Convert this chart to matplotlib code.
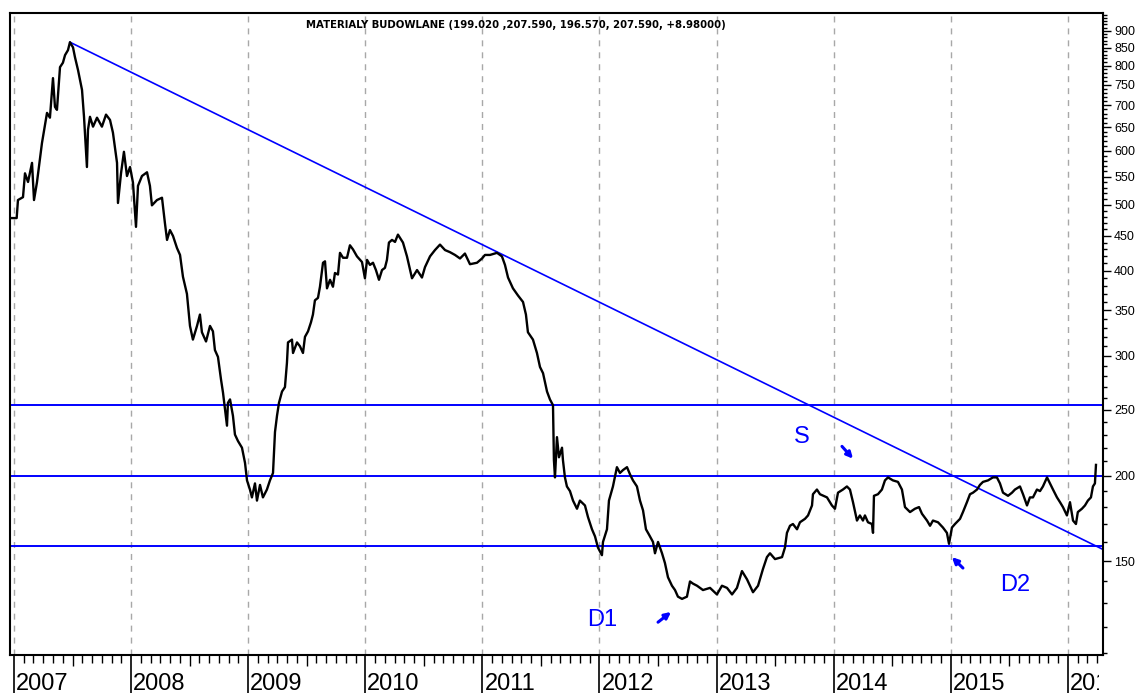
import matplotlib
matplotlib.use("Agg")
import matplotlib.pyplot as plt
import matplotlib.transforms as mtrans
from matplotlib.ticker import FixedLocator, FixedFormatter, NullFormatter

# tytul wykresu
title = "MATERIALY BUDOWLANE (199.020 ,207.590, 196.570, 207.590, +8.98000)"

# notowania indeksu (data jako ulamek roku, wartosc)
dates = [
    2006.980, 2007.023, 2007.034, 2007.077, 2007.094, 2007.120, 2007.154, 2007.171, 2007.196, 2007.239,
    2007.282, 2007.307, 2007.333, 2007.350, 2007.367, 2007.393, 2007.418, 2007.436, 2007.461, 2007.478,
    2007.504, 2007.521, 2007.547, 2007.581, 2007.598, 2007.623, 2007.632, 2007.649, 2007.675, 2007.709,
    2007.751, 2007.786, 2007.820, 2007.845, 2007.880, 2007.888, 2007.914, 2007.939, 2007.965, 2007.991,
    2008.016, 2008.042, 2008.059, 2008.093, 2008.136, 2008.161, 2008.178, 2008.221, 2008.264, 2008.289,
    2008.307, 2008.332, 2008.358, 2008.392, 2008.418, 2008.443, 2008.477, 2008.503, 2008.528, 2008.563,
    2008.588, 2008.605, 2008.640, 2008.674, 2008.699, 2008.716, 2008.742, 2008.768, 2008.785, 2008.819,
    2008.827, 2008.845, 2008.870, 2008.887, 2008.913, 2008.947, 2008.973, 2008.990, 2009.015, 2009.032,
    2009.058, 2009.075, 2009.101, 2009.126, 2009.160, 2009.186, 2009.212, 2009.229, 2009.246, 2009.263,
    2009.289, 2009.314, 2009.331, 2009.340, 2009.374, 2009.383, 2009.417, 2009.442, 2009.468, 2009.485,
    2009.511, 2009.536, 2009.553, 2009.570, 2009.596, 2009.613, 2009.639, 2009.656, 2009.673, 2009.699,
    2009.724, 2009.741, 2009.767, 2009.784, 2009.810, 2009.844, 2009.869, 2009.895, 2009.929, 2009.972,
    2009.997, 2010.015, 2010.040, 2010.066, 2010.091, 2010.117, 2010.143, 2010.168, 2010.185, 2010.202,
    2010.228, 2010.254, 2010.279, 2010.322, 2010.356, 2010.399, 2010.442, 2010.484, 2010.510, 2010.553,
    2010.595, 2010.638, 2010.681, 2010.723, 2010.766, 2010.809, 2010.851, 2010.894, 2010.954, 2010.997,
    2011.022, 2011.065, 2011.125, 2011.167, 2011.193, 2011.219, 2011.261, 2011.304, 2011.347, 2011.372,
    2011.389, 2011.432, 2011.466, 2011.492, 2011.518, 2011.552, 2011.577, 2011.603, 2011.611, 2011.620,
    2011.637, 2011.654, 2011.680, 2011.688, 2011.705, 2011.722, 2011.748, 2011.774, 2011.808, 2011.833,
    2011.876, 2011.902, 2011.936, 2011.962, 2011.987, 2012.021, 2012.030, 2012.064, 2012.081, 2012.115,
    2012.149, 2012.175, 2012.201, 2012.235, 2012.261, 2012.286, 2012.320, 2012.346, 2012.372, 2012.397,
    2012.423, 2012.457, 2012.474, 2012.500, 2012.534, 2012.559, 2012.585, 2012.619, 2012.645, 2012.670,
    2012.705, 2012.747, 2012.773, 2012.798, 2012.833, 2012.884, 2012.944, 2013.003, 2013.046, 2013.089,
    2013.132, 2013.174, 2013.217, 2013.260, 2013.311, 2013.354, 2013.396, 2013.430, 2013.456, 2013.499,
    2013.559, 2013.584, 2013.601, 2013.627, 2013.652, 2013.687, 2013.712, 2013.755, 2013.781, 2013.815,
    2013.823, 2013.857, 2013.883, 2013.943, 2013.985, 2014.011, 2014.037, 2014.079, 2014.113, 2014.139,
    2014.165, 2014.199, 2014.224, 2014.250, 2014.267, 2014.293, 2014.327, 2014.336, 2014.344, 2014.378,
    2014.412, 2014.438, 2014.464, 2014.506, 2014.549, 2014.583, 2014.609, 2014.652, 2014.694, 2014.729,
    2014.754, 2014.797, 2014.823, 2014.848, 2014.891, 2014.933, 2014.967, 2014.985, 2015.010, 2015.036,
    2015.079, 2015.104, 2015.138, 2015.164, 2015.190, 2015.224, 2015.249, 2015.275, 2015.318, 2015.360,
    2015.394, 2015.420, 2015.446, 2015.489, 2015.523, 2015.548, 2015.591, 2015.617, 2015.651, 2015.676,
    2015.702, 2015.736, 2015.762, 2015.787, 2015.822, 2015.847, 2015.873, 2015.907, 2015.933, 2015.958,
    2015.992, 2016.018, 2016.044, 2016.069, 2016.085, 2016.120, 2016.146, 2016.171, 2016.197, 2016.214,
    2016.231, 2016.240,
]
values = [
    478, 478, 508, 513, 556, 540, 576, 508, 539, 616,
    682, 671, 767, 696, 689, 796, 808, 829, 843, 866,
    851, 823, 788, 737, 673, 568, 644, 673, 651, 671,
    651, 678, 666, 638, 576, 503, 556, 598, 551, 568,
    539, 464, 533, 551, 558, 533, 499, 508, 512, 470,
    444, 459, 450, 432, 422, 392, 370, 332, 317, 332,
    345, 325, 315, 332, 326, 306, 299, 277, 265, 237,
    256, 259, 245, 230, 225, 220, 209, 197, 191, 186,
    195, 184, 194, 186, 191, 197, 202, 232, 245, 256,
    266, 270, 293, 314, 317, 303, 314, 310, 303, 320,
    326, 336, 345, 362, 365, 379, 411, 413, 377, 388,
    379, 397, 395, 425, 418, 418, 436, 430, 420, 412,
    390, 415, 408, 411, 401, 388, 401, 404, 415, 440,
    444, 441, 452, 440, 420, 390, 401, 391, 405, 420,
    429, 437, 429, 426, 422, 417, 424, 409, 411, 417,
    422, 422, 425, 420, 408, 391, 377, 368, 360, 345,
    325, 317, 303, 289, 283, 266, 259, 254, 211, 199,
    228, 213, 220, 211, 199, 193, 190, 184, 179, 184,
    181, 174, 167, 163, 157, 153, 160, 167, 184, 193,
    206, 202, 204, 206, 201, 197, 193, 184, 178, 167,
    164, 160, 154, 160, 154, 149, 142, 138, 136, 133,
    132, 133, 140, 139, 138, 136, 137, 134, 138, 137,
    134, 137, 145, 141, 135, 138, 146, 152, 154, 151,
    152, 157, 165, 169, 170, 167, 171, 173, 175, 181,
    188, 191, 188, 186, 181, 179, 189, 191, 193, 191,
    183, 172, 175, 172, 175, 171, 170, 165, 187, 188,
    191, 197, 199, 197, 196, 191, 180, 177, 179, 180,
    176, 172, 169, 172, 171, 168, 165, 159, 168, 170,
    173, 177, 183, 188, 189, 191, 194, 196, 197, 199,
    199, 195, 189, 187, 189, 191, 193, 188, 181, 186,
    186, 191, 190, 193, 199, 195, 191, 186, 183, 180,
    175, 183, 172, 170, 177, 179, 181, 184, 186, 193,
    195, 207.59,
]

# linia trendu spadkowego (dwa punkty) i poziomy wsparcia/oporu
trend_dates = [2007.478, 2016.300]
trend_values = [866, 156]
levels = [254, 200, 158]

# os pionowa
y_major = [150, 200, 250, 300, 350, 400, 450, 500, 550, 600, 650, 700, 750, 800, 850, 900]
y_minor = [v for v in range(110, 960, 10) if v not in y_major]
years = list(range(2007, 2017))

BLUE = "#0000ff"
X_MIN, X_MAX = 2006.966, 2016.300


def main():
    fig = plt.figure(figsize=(11.38, 6.93), dpi=100)
    ax = fig.add_axes([10 / 1138, 38 / 693, 1093 / 1138, 642 / 693])

    ax.set_yscale("log")

    # siatka pionowa na poczatku kazdego roku
    for yr in years:
        ax.axvline(yr, color="#a8a8a8", lw=1.0, linestyle=(0, (4.3, 4.3)), zorder=0)

    # poziomy i trend
    for lv in levels:
        ax.axhline(lv, color=BLUE, lw=1.4, zorder=2)
    ax.plot(trend_dates, trend_values, color=BLUE, lw=1.2, zorder=2)

    # notowania
    ax.plot(dates, values, color="black", lw=1.7, zorder=3)

    # tytul w srodku ramki
    ax.text(0.4625, 0.981, title, transform=ax.transAxes, ha="center", va="center",
            fontsize=7.3, fontweight="bold", family="DejaVu Sans")

    # opisy S, D1, D2 ze strzalkami
    lab = dict(color=BLUE, fontsize=17, family="Liberation Sans", ha="center", va="center")
    ax.text(2013.729, 228, "S", **lab)
    ax.text(2012.021, 123, "D1", **lab)
    ax.text(2015.548, 138.4, "D2", **lab)
    arrow = dict(arrowstyle="-|>", color=BLUE, lw=2.2, mutation_scale=9, shrinkA=0, shrinkB=0)
    ax.annotate("", xy=(2014.165, 212), xytext=(2014.071, 221), arrowprops=arrow)
    ax.annotate("", xy=(2012.611, 126.3), xytext=(2012.500, 122), arrowprops=arrow)
    ax.annotate("", xy=(2015.010, 152), xytext=(2015.104, 146.5), arrowprops=arrow)

    # os Y po prawej stronie
    ax.yaxis.tick_right()
    ax.yaxis.set_major_locator(FixedLocator(y_major))
    ax.yaxis.set_major_formatter(FixedFormatter([str(v) for v in y_major]))
    ax.yaxis.set_minor_locator(FixedLocator(y_minor))
    ax.yaxis.set_minor_formatter(NullFormatter())
    ax.tick_params(axis="y", which="major", direction="out", length=5.5, width=1.0,
                   pad=2.5, labelsize=9, labelfontfamily="Liberation Sans")
    ax.tick_params(axis="y", which="minor", direction="out", length=3, width=1.0)

    # os X: dlugie kreski lat, krotkie miesiace, srednie w polowie roku
    ax.set_xticks(years)
    ax.set_xticklabels([])
    months = [yr + m / 12 for yr in range(2006, 2017) for m in range(1, 12) if m != 6]
    ax.set_xticks([m for m in months if X_MIN < m < X_MAX], minor=True)
    ax.tick_params(axis="x", which="major", direction="out", length=28, width=1.2)
    ax.tick_params(axis="x", which="minor", direction="out", length=5.5, width=1.0)
    mid = [yr + 0.5 for yr in range(2006, 2017) if X_MIN < yr + 0.5 < X_MAX]
    ax.vlines(mid, -11 / 642, 0, transform=ax.get_xaxis_transform(),
              color="black", lw=1.0, clip_on=False)

    # zakres osi ustawiony na koncu (set_xticks poszerza widok)
    ax.set_xlim(X_MIN, X_MAX)
    ax.set_ylim(109.2, 955.8)

    # podpisy lat obok kreski, przyciete przy prawej krawedzi ramki
    clip = mtrans.TransformedBbox(mtrans.Bbox.from_extents(0, 0, 1099 / 1138, 1), fig.transFigure)
    off = mtrans.offset_copy(ax.get_xaxis_transform(), fig=fig, x=2, y=-35, units="dots")
    for yr in years:
        t = ax.text(yr, 0, str(yr), transform=off, ha="left", va="baseline",
                    fontsize=17, family="Liberation Sans")
        t.set_clip_box(clip)
        t.set_clip_on(True)

    for sp in ax.spines.values():
        sp.set_linewidth(1.5)
        sp.set_color("black")

    fig.savefig("out.png", dpi=100)
    plt.close(fig)


if __name__ == "__main__":
    main()
